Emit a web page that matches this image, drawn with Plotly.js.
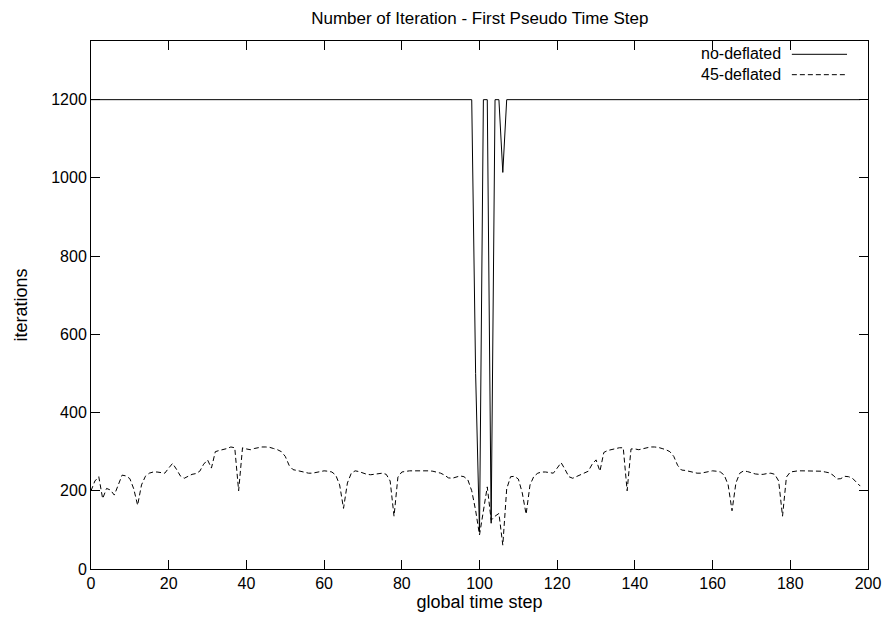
<!DOCTYPE html>
<html>
<head>
<meta charset="utf-8">
<script src="https://cdn.plot.ly/plotly-3.0.1.min.js"></script>
<style>html,body{margin:0;padding:0;background:#fff;}#chart{width:886px;height:625px;}</style>
</head>
<body>
<div id="chart"></div>
<script>
// global time step
const steps = [
0,1,2,3,4,5,6,7,8,9,10,11,12,13,14,15,16,17,18,19,
20,21,22,23,24,25,26,27,28,29,30,31,32,33,34,35,36,37,38,39,
40,41,42,43,44,45,46,47,48,49,50,51,52,53,54,55,56,57,58,59,
60,61,62,63,64,65,66,67,68,69,70,71,72,73,74,75,76,77,78,79,
80,81,82,83,84,85,86,87,88,89,90,91,92,93,94,95,96,97,98,99,
100,101,102,103,104,105,106,107,108,109,110,111,112,113,114,115,116,117,118,119,
120,121,122,123,124,125,126,127,128,129,130,131,132,133,134,135,136,137,138,139,
140,141,142,143,144,145,146,147,148,149,150,151,152,153,154,155,156,157,158,159,
160,161,162,163,164,165,166,167,168,169,170,171,172,173,174,175,176,177,178,179,
180,181,182,183,184,185,186,187,188,189,190,191,192,193,194,195,196,197,198
];

// no-deflated iterations
const noDeflated = [
1200,1200,1200,1200,1200,1200,1200,1200,1200,1200,1200,1200,1200,1200,1200,1200,1200,1200,1200,1200,
1200,1200,1200,1200,1200,1200,1200,1200,1200,1200,1200,1200,1200,1200,1200,1200,1200,1200,1200,1200,
1200,1200,1200,1200,1200,1200,1200,1200,1200,1200,1200,1200,1200,1200,1200,1200,1200,1200,1200,1200,
1200,1200,1200,1200,1200,1200,1200,1200,1200,1200,1200,1200,1200,1200,1200,1200,1200,1200,1200,1200,
1200,1200,1200,1200,1200,1200,1200,1200,1200,1200,1200,1200,1200,1200,1200,1200,1200,1200,1200,500,
95,1200,1200,117,1200,1200,1014,1200,1200,1200,1200,1200,1200,1200,1200,1200,1200,1200,1200,1200,
1200,1200,1200,1200,1200,1200,1200,1200,1200,1200,1200,1200,1200,1200,1200,1200,1200,1200,1200,1200,
1200,1200,1200,1200,1200,1200,1200,1200,1200,1200,1200,1200,1200,1200,1200,1200,1200,1200,1200,1200,
1200,1200,1200,1200,1200,1200,1200,1200,1200,1200,1200,1200,1200,1200,1200,1200,1200,1200,1200,1200,
1200,1200,1200,1200,1200,1200,1200,1200,1200,1200,1200,1200,1200,1200,1200,1200,1200,1200,1200
];

// 45-deflated iterations
const deflated45 = [
200,225,236,180,206,202,189,215,240,238,231,205,163,215,237,245,248,248,246,245,
258,270,255,238,232,237,242,244,250,268,279,258,300,303,305,308,312,310,200,310,
307,305,308,310,312,312,311,308,305,300,288,265,254,252,250,247,245,245,247,249,
251,250,248,240,215,155,220,245,251,249,245,242,241,242,244,245,242,225,135,235,
248,250,251,251,251,252,251,251,250,248,245,240,233,232,236,238,236,228,200,150,
87,150,210,125,135,142,61,205,236,237,230,195,140,215,237,245,248,248,246,245,
258,272,255,236,232,237,242,245,250,268,279,250,298,303,305,308,310,310,200,307,
307,305,308,310,312,312,311,308,305,300,288,265,253,252,250,247,245,245,247,249,
251,250,248,240,215,149,220,245,251,249,245,243,242,242,244,245,242,225,135,235,
248,250,251,251,251,251,251,251,250,248,246,240,230,231,237,236,232,222,212
];

const seriesNames = ["no-deflated", "45-deflated"];
const xTicks = [0,20,40,60,80,100,120,140,160,180,200];
const yTicks = [0,200,400,600,800,1000,1200];

const FONT = "Liberation Sans, Arial, Helvetica, sans-serif";

const traces = [
  {x: steps, y: noDeflated, name: seriesNames[0], type: "scatter", mode: "lines",
   line: {color: "#000", width: 1}, showlegend: false},
  {x: steps, y: deflated45, name: seriesNames[1], type: "scatter", mode: "lines",
   line: {color: "#000", width: 1, dash: "5px,3px"}, showlegend: false}
];

const axisCommon = {
  showline: true, linecolor: "#000", linewidth: 1, mirror: "allticks",
  ticks: "inside", ticklen: 9, tickwidth: 1, tickcolor: "#000",
  showgrid: false, zeroline: false,
  tickfont: {family: FONT, size: 16, color: "#000"}
};

const layout = {
  width: 886, height: 625,
  margin: {l: 91, r: 18, t: 41, b: 56},
  paper_bgcolor: "#fff", plot_bgcolor: "#fff",
  title: {text: "Number of Iteration - First Pseudo Time Step", x: 0.5416, xanchor: "center",
          y: 0.971, yanchor: "middle", font: {family: FONT, size: 17, color: "#000"}},
  xaxis: Object.assign({}, axisCommon, {
    range: [0, 200], tickvals: xTicks, ticktext: xTicks.map(String),
    title: {text: "global time step", font: {family: FONT, size: 18, color: "#000"}, standoff: 4}
  }),
  yaxis: Object.assign({}, axisCommon, {
    range: [0, 1350], tickvals: yTicks, ticktext: yTicks.map(String),
    title: {text: "iterations", font: {family: FONT, size: 18, color: "#000"}, standoff: 18}
  }),
  annotations: [
    {xref: "paper", yref: "paper", x: 0.8906, y: 0.9555, xanchor: "right", yanchor: "middle",
     align: "right", text: seriesNames[0] + "<br>" + seriesNames[1], showarrow: false,
     font: {family: FONT, size: 16, color: "#000"}}
  ],
  shapes: [
    {type: "line", xref: "paper", yref: "paper", x0: 0.902, x1: 0.973, y0: 0.9748, y1: 0.9748,
     line: {color: "#000", width: 1}},
    {type: "line", xref: "paper", yref: "paper", x0: 0.902, x1: 0.973, y0: 0.9362, y1: 0.9362,
     line: {color: "#000", width: 1, dash: "5px,3px"}}
  ]
};

Plotly.newPlot("chart", traces, layout, {displayModeBar: false, staticPlot: true});
</script>
</body>
</html>
